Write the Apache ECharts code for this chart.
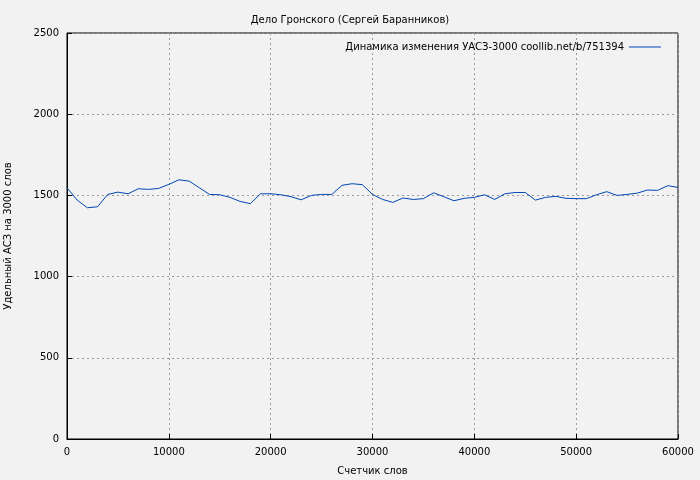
<!DOCTYPE html><html><head><meta charset="utf-8">
<script src="https://cdn.jsdelivr.net/npm/echarts@6/dist/echarts.min.js"></script>
<style>html,body{margin:0;background:#f2f2f2}#c{width:700px;height:480px}</style></head><body><div id="c"></div>
<script>
const xValues=[0,1000,2000,3000,4000,5000,6000,7000,8000,9000,10000,11000,12000,13000,14000,15000,16000,17000,18000,19000,20000,21000,22000,23000,24000,25000,26000,27000,28000,29000,30000,31000,32000,33000,34000,35000,36000,37000,38000,39000,40000,41000,42000,43000,44000,45000,46000,47000,48000,49000,50000,51000,52000,53000,54000,55000,56000,57000,58000,59000,60000];
const yValues=[1547,1471,1424,1430,1506,1520,1510,1541,1537,1543,1568,1596,1588,1547,1506,1504,1488,1463,1449,1510,1510,1504,1492,1473,1500,1506,1506,1562,1572,1566,1506,1475,1457,1484,1475,1480,1516,1492,1467,1482,1488,1504,1475,1510,1518,1518,1471,1488,1494,1482,1480,1480,1504,1523,1500,1506,1514,1533,1531,1560,1549];
const seriesName='Динамика изменения УАСЗ-3000 coollib.net/b/751394';
const font='DejaVu Sans';
const c=echarts.init(document.getElementById('c'));
c.setOption({
 backgroundColor:'#f2f2f2',animation:false,
 textStyle:{fontFamily:font},
 title:{text:'Дело Гронского (Сергей Баранников)',left:'center',top:10,textStyle:{fontSize:10,fontWeight:'normal',color:'#000',fontFamily:font}},
 legend:{top:37,right:34,align:'right',itemWidth:32,itemHeight:1,itemGap:6,icon:'rect',textStyle:{fontSize:10,color:'#000',fontFamily:font},data:[seriesName]},
 grid:{left:67,right:22,top:33,bottom:41,containLabel:false,outerBoundsMode:'none',show:true,borderColor:'#000',borderWidth:1},
 xAxis:{type:'value',min:0,max:60000,interval:10000,name:'Счетчик слов',nameLocation:'middle',nameGap:27,nameTextStyle:{fontSize:10,color:'#000'},
  axisLine:{lineStyle:{color:'#000'}},axisTick:{inside:true,lineStyle:{color:'#000'}},axisLabel:{fontSize:10,color:'#000',formatter:v=>String(v)},
  splitLine:{lineStyle:{color:'#999',type:[2,3]}}},
 yAxis:{type:'value',min:0,max:2500,interval:500,name:'Удельный АСЗ на 3000 слов',nameLocation:'middle',nameGap:54,nameTextStyle:{fontSize:10,color:'#000'},
  axisLine:{show:true,lineStyle:{color:'#000'}},axisTick:{show:true,inside:true,lineStyle:{color:'#000'}},axisLabel:{fontSize:10,color:'#000',formatter:v=>String(v)},
  splitLine:{lineStyle:{color:'#999',type:[2,3]}}},
 series:[{name:seriesName,type:'line',data:xValues.map((x,i)=>[x,yValues[i]]),showSymbol:false,lineStyle:{color:'#0047b3',width:1},itemStyle:{color:'#0047b3'}}]
});
</script></body></html>
